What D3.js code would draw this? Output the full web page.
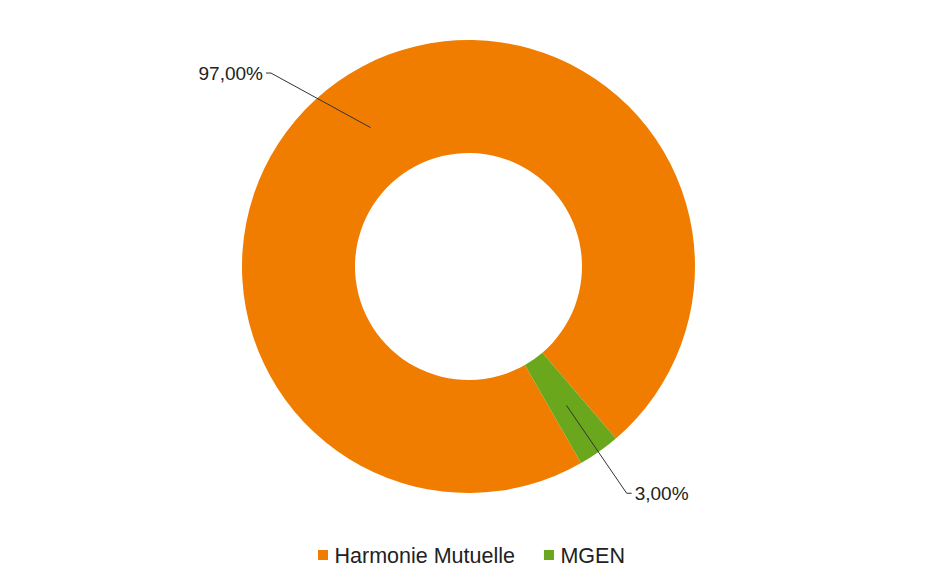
<!DOCTYPE html>
<html><head><meta charset="utf-8">
<script src="https://cdn.jsdelivr.net/npm/d3@7"></script>
<style>html,body{margin:0;padding:0;background:#fff;}svg{display:block;font-family:"Liberation Sans",Arial,sans-serif;}</style>
</head><body>
<svg id="c" width="940" height="572"></svg>
<script>
const categories = ["Harmonie Mutuelle", "MGEN"];
const values = [97, 3];
const valueLabels = ["97,00%", "3,00%"];
const colors = ["#F07D00", "#6AA71C"];

const svg = d3.select("#c");
const cx = 468.5, cy = 266.5, R = 226.5, r = 113.5;
const deg = Math.PI / 180;
const start = 150.2 * deg;

const data = categories.map((c, i) => ({ name: c, value: values[i], label: valueLabels[i], color: colors[i] }));
const pie = d3.pie().sort(null).value(d => d.value).startAngle(start).endAngle(start + 2 * Math.PI);
const arcs = pie(data);
const arc = d3.arc().innerRadius(r).outerRadius(R);
const g = svg.append("g").attr("transform", `translate(${cx},${cy})`);

g.selectAll("path.slice").data(arcs).join("path")
  .attr("class", "slice")
  .attr("d", arc)
  .attr("fill", d => d.data.color);

// leader lines
const labelR = 276.5;
const nudge = [-10.4 * deg, 0.3 * deg];
arcs.forEach((d, i) => {
  const mid = (d.startAngle + d.endAngle) / 2;
  const c = arc.centroid(d);
  const a = mid + nudge[i];
  const bx = Math.sin(a) * labelR, by = -Math.cos(a) * labelR;
  const right = Math.sin(a) > 0;
  const ex = bx + (right ? 5 : -5);
  g.append("polyline")
    .attr("points", [[c[0], c[1]], [bx, by], [ex, by]].map(p => p.join(",")).join(" "))
    .attr("fill", "none").attr("stroke", "#333").attr("stroke-width", 1);
  g.append("text")
    .attr("x", ex + (right ? 3 : -3)).attr("y", by)
    .attr("dy", "0.35em")
    .attr("text-anchor", right ? "start" : "end")
    .attr("font-size", 19).attr("fill", "#222")
    .text(d.data.label);
});

// legend
const leg = svg.append("g").attr("transform", "translate(318,555)");
let x = 0;
data.forEach((d, i) => {
  const it = leg.append("g").attr("transform", `translate(${x},0)`);
  it.append("rect").attr("x", 0).attr("y", -5).attr("width", 10).attr("height", 10).attr("fill", d.color);
  const t = it.append("text").attr("x", 16.5).attr("y", 0).attr("dy", "0.35em")
    .attr("font-size", 21.5).attr("fill", "#222").text(d.name);
  x += 16.5 + t.node().getComputedTextLength() + 29;
});
</script>
</body></html>
